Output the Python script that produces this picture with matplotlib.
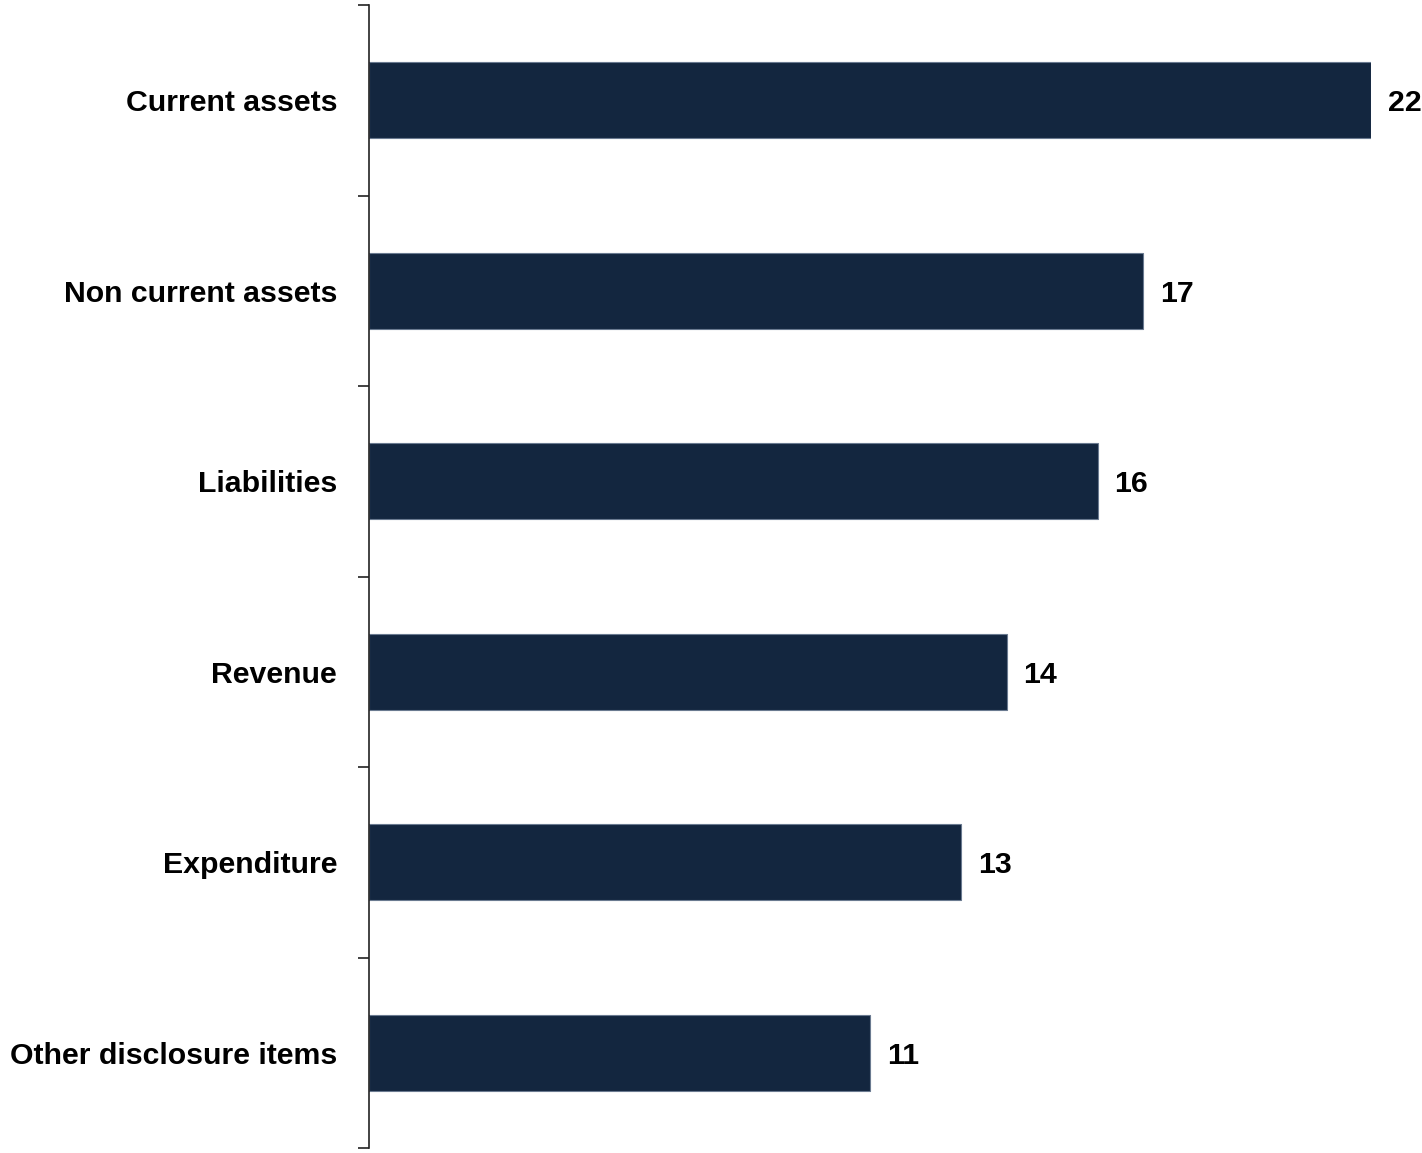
import numpy as np
import matplotlib.pyplot as plt
from matplotlib import font_manager

# items and counts, top to bottom
categories = ["Current assets", "Non current assets", "Liabilities",
              "Revenue", "Expenditure", "Other disclosure items"]
counts = [22, 17, 16, 14, 13, 11]

# narrow bold face if there is one, plain Arial-like bold otherwise
names = {f.name for f in font_manager.fontManager.ttflist}
if "Liberation Sans Narrow" in names:
    family, size = "Liberation Sans Narrow", 27
else:
    family, size = "Liberation Sans", 21.8
plt.rcParams["font.family"] = [family, "DejaVu Sans"]
plt.rcParams["font.weight"] = "bold"

fig = plt.figure(figsize=(14.22, 11.53), dpi=100)
ax = fig.add_axes([369 / 1422, 5 / 1153, (1371 - 369) / 1422, 1143 / 1153])

pos = np.arange(len(categories))
ax.barh(pos, counts, height=0.4, color="#13263f", edgecolor="#6a7a90", linewidth=0.8)
ax.set_xlim(0, 22)
ax.set_ylim(len(categories) - 0.5, -0.5)

for y, v in zip(pos, counts):
    ax.text(v + 0.37, y, str(v), va="center_baseline", ha="left", fontsize=size,
            fontweight="bold", clip_on=False)

# labels at bar centres, small ticks on the boundaries between them
ax.set_yticks(pos)
ax.set_yticklabels(categories, fontsize=size, fontweight="bold")
ax.tick_params(axis="y", which="major", length=0, pad=23)
ax.set_yticks(np.arange(len(categories) + 1) - 0.5, minor=True)
ax.tick_params(axis="y", which="minor", length=8, width=1.2, color="#222222")

ax.set_xticks([])
for side in ["top", "right", "bottom"]:
    ax.spines[side].set_visible(False)
ax.spines["left"].set_linewidth(1.2)
ax.spines["left"].set_color("#222222")

fig.savefig("out.png", dpi=100)
